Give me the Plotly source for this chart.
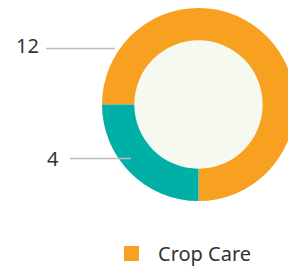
import plotly.graph_objects as go

# Data
categories = ["Crop Care", "Other"]
values = [12, 4]
colors = ["#F8A01F", "#00B0A6"]
legend_labels = ["Crop Care"]

# page body has an 8px margin; figure sized to fit the visible window
W, H = 288, 266

def px(x):
    return x / W

def py(y):
    return 1 - y / H

# pie geometry (layout, in figure pixels)
dx0, dx1, dy0, dy1 = 93, 288, 0, 193
hole = 0.665

fig = go.Figure()

fig.add_trace(go.Pie(
    labels=categories,
    values=values,
    marker=dict(colors=colors, line=dict(width=0)),
    hole=hole,
    sort=False,
    direction="clockwise",
    rotation=270,
    textinfo="none",
    hoverinfo="label+value",
    showlegend=False,
    domain=dict(x=[px(dx0), px(dx1)], y=[py(dy1), py(dy0)]),
))

# legend entry (only first category shown)
fig.add_trace(go.Scatter(
    x=[None], y=[None], mode="markers",
    name=legend_labels[0],
    marker=dict(symbol="square", size=15, color=colors[0]),
    showlegend=True,
))

# hole fill circle computed from domain
cx = (dx0 + dx1) / 2
cy = (dy0 + dy1) / 2
R = min(dx1 - dx0, dy1 - dy0) / 2
r = R * hole
fig.add_shape(type="circle", xref="paper", yref="paper",
              x0=px(cx - r), x1=px(cx + r), y0=py(cy + r), y1=py(cy - r),
              fillcolor="#F6F9EF", line=dict(width=0), layer="below")

# value labels with leader lines
label_pos = [(19, 37, 38, 107, 40.5), (45, 150, 62, 123, 150.5)]
for val, (tx, ty, lx0, lx1, ly) in zip(values, label_pos):
    fig.add_shape(type="line", xref="paper", yref="paper",
                  x0=px(lx0), x1=px(lx1), y0=py(ly), y1=py(ly),
                  line=dict(color="#BDBDBD", width=1.5))
    fig.add_annotation(x=px(tx), y=py(ty), xref="paper", yref="paper",
                       xanchor="center", yanchor="middle",
                       text=str(val), showarrow=False,
                       font=dict(size=20, color="#333333", family="Noto Sans"))

fig.update_layout(
    width=W, height=H,
    margin=dict(l=0, r=0, t=0, b=0),
    paper_bgcolor="white",
    plot_bgcolor="white",
    xaxis=dict(visible=False),
    yaxis=dict(visible=False),
    legend=dict(
        orientation="h",
        x=px(97), y=py(226), xanchor="left", yanchor="top",
        itemwidth=43,
        font=dict(size=20, color="#333333", family="Noto Sans"),
        bgcolor="rgba(0,0,0,0)",
    ),
)

fig.write_html("out.html")
